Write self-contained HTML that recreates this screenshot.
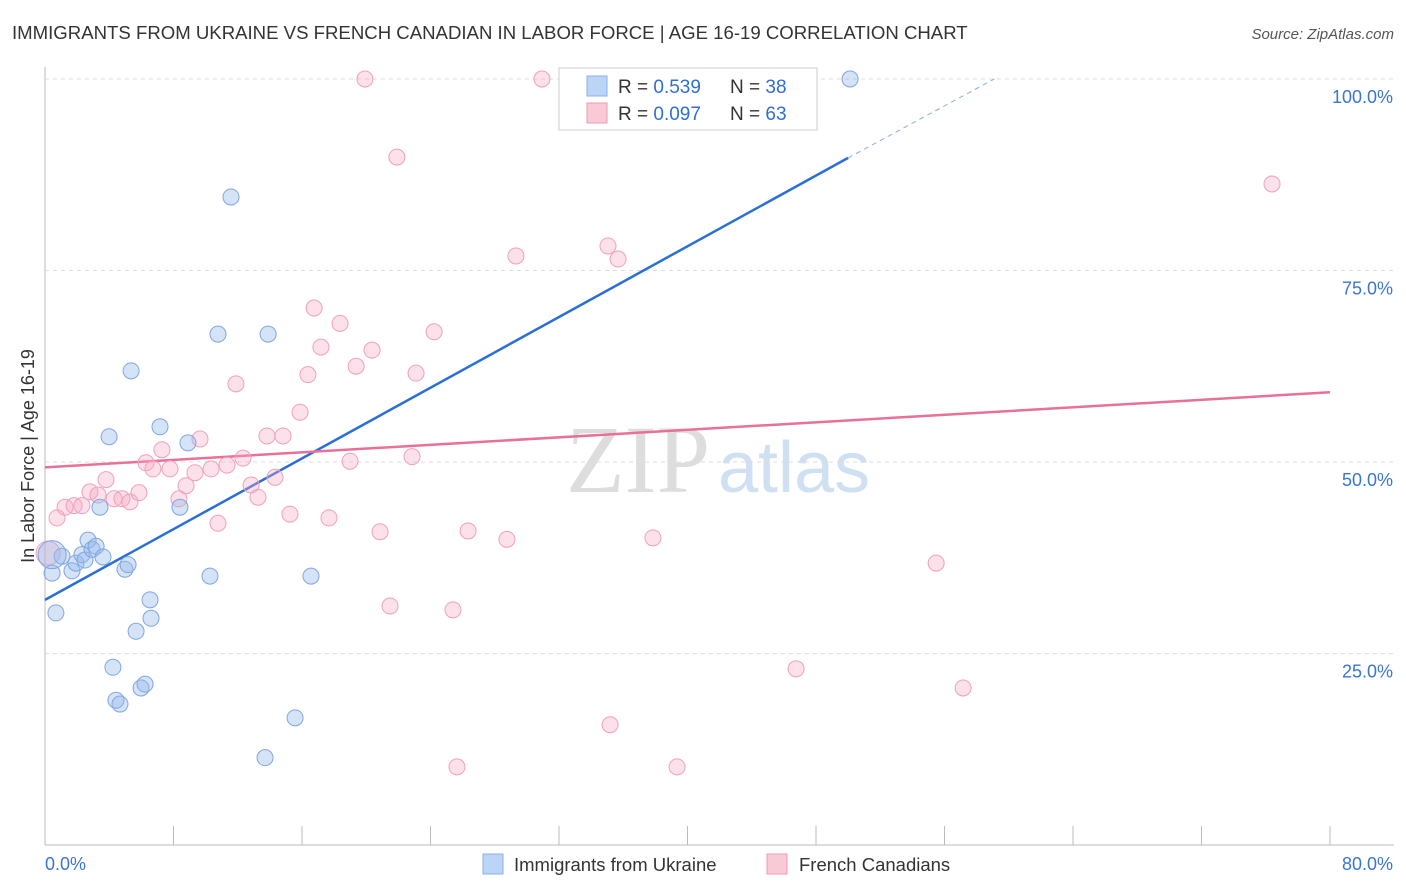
<!DOCTYPE html>
<html><head><meta charset="utf-8">
<style>
body{margin:0;background:#fff;font-family:"Liberation Sans",sans-serif;}
#wrap{position:relative;width:1406px;height:892px;overflow:hidden;}
</style></head>
<body>
<div id="wrap">
<svg id="svg" width="1406" height="892" xmlns="http://www.w3.org/2000/svg">
<text x="12" y="39" font-size="18.6" fill="#333">IMMIGRANTS FROM UKRAINE VS FRENCH CANADIAN IN LABOR FORCE | AGE 16-19 CORRELATION CHART</text>
<text x="1394" y="39" font-size="15" fill="#555" font-style="italic" text-anchor="end">Source: ZipAtlas.com</text>
<text x="710" y="492" font-size="96" font-family="Liberation Serif" fill="#ddd" text-anchor="end">ZIP</text>
<text x="718" y="492" font-size="72" fill="#cfe0f3">atlas</text>
<g id="grid"></g>
<g id="lines"></g>
<g id="pts"></g>
<text transform="translate(34,456) rotate(-90)" font-size="18" fill="#333" text-anchor="middle">In Labor Force | Age 16-19</text>
<g>
<rect x="559" y="68" width="258" height="62" fill="#fff" stroke="#ccc"/>
<rect x="587" y="76" width="20" height="20" fill="#bcd4f6" stroke="#8ab0e8"/>
<rect x="587" y="103" width="20" height="20" fill="#f9c9d6" stroke="#ee9ab3"/>
<text x="618" y="93" font-size="19" fill="#333">R = <tspan fill="#2f6fd4">0.539</tspan></text>
<text x="730" y="93" font-size="19" fill="#333">N = <tspan fill="#2f6fd4">38</tspan></text>
<text x="618" y="120" font-size="19" fill="#333">R = <tspan fill="#2f6fd4">0.097</tspan></text>
<text x="730" y="120" font-size="19" fill="#333">N = <tspan fill="#2f6fd4">63</tspan></text>
</g>
<g>
<rect x="483" y="854" width="20" height="20" fill="#bcd4f6" stroke="#8ab0e8"/>
<text x="514" y="871" font-size="18.5" fill="#333">Immigrants from Ukraine</text>
<rect x="767" y="854" width="20" height="20" fill="#f9c9d6" stroke="#ee9ab3"/>
<text x="799" y="871" font-size="18.5" fill="#333">French Canadians</text>
</g>
</svg>
</div>
<script>
const xTicks=[0,8,16,24,32,40,48,56,64,72,80];
const yTicks=[25,50,75,100];
const yTickLabels=["25.0%","50.0%","75.0%","100.0%"];
const blueX=[0.44,0.68,1.06,1.68,1.93,2.30,2.49,2.68,2.93,3.18,3.42,3.61,3.99,4.23,4.42,4.67,4.98,5.17,5.36,5.67,5.98,6.23,6.54,6.60,7.16,8.40,8.90,10.27,10.77,11.58,13.70,13.89,15.57,16.56,50.12,0.44];
const blueY=[35.5,30.3,37.7,35.8,36.8,37.9,37.2,39.8,38.6,39.0,44.1,37.6,53.3,23.2,18.9,18.4,36.0,36.6,61.9,27.9,20.5,21.0,32.0,29.6,54.6,44.1,52.5,35.1,66.7,84.6,11.4,66.7,16.6,35.1,100,37.9];
const pinkX=[0.19,0.75,1.25,1.81,2.30,2.80,3.30,3.80,4.30,4.79,5.29,5.85,6.29,6.72,7.28,7.78,8.34,8.78,9.34,9.65,10.34,10.77,11.33,11.89,12.33,12.83,13.26,13.82,14.32,14.82,15.25,15.88,16.37,16.75,17.18,17.68,18.37,18.99,19.37,19.92,20.36,20.86,21.48,21.91,22.85,23.10,24.22,25.40,25.65,26.34,28.76,29.32,30.94,35.05,35.18,35.68,37.85,39.35,46.76,55.48,57.16,76.39];
const pinkY=[38.1,42.7,44.1,44.3,44.3,46.1,45.7,47.7,45.2,45.2,44.8,46.0,49.9,49.1,51.6,49.1,45.2,46.9,48.6,53.0,49.1,42.0,49.6,60.2,50.5,47.0,45.4,53.4,48.0,53.4,43.2,56.5,61.4,70.1,65.0,42.7,68.1,50.1,62.5,100,64.6,40.9,31.2,89.8,50.7,61.6,67.0,30.7,10.2,41.0,39.9,76.9,100,78.2,15.7,76.5,40.1,10.2,23.0,36.8,20.5,86.3];
const blueLine=[0,32.0,50,89.7,59.1,100];
const pinkLine=[0,49.3,80,59.1];
const NS="http://www.w3.org/2000/svg";
const sx=v=>45+v*(1285/80), sy=v=>845-v*7.66;
function mk(tag,attrs,parent){const e=document.createElementNS(NS,tag);for(const k in attrs)e.setAttribute(k,attrs[k]);document.getElementById(parent).appendChild(e);return e;}
let e;
e=mk('line',{x1:45,y1:67,x2:45,y2:845,stroke:'#bbb'},'grid');


e=mk('line',{x1:45,y1:845,x2:1394,y2:845,stroke:'#bbb'},'grid');


yTicks.forEach((t,i)=>{
 e=mk('line',{x1:45,y1:sy(t),x2:1394,y2:sy(t),stroke:'#ddd','stroke-dasharray':'4,4'},'grid');
 
 
 e=mk('text',{x:1393,y:sy(t)+24,'font-size':18,fill:'#3a76d0','text-anchor':'end'},'grid');e.textContent=yTickLabels[i];
 
 
});
xTicks.forEach(t=>{
 e=mk('line',{x1:sx(t),y1:826,x2:sx(t),y2:845,stroke:'#bbb'},'grid');
 
 
});
e=mk('text',{x:45,y:870,'font-size':18,fill:'#3a76d0'},'grid');e.textContent='0.0%';


e=mk('text',{x:1393,y:870,'font-size':18,fill:'#3a76d0','text-anchor':'end'},'grid');e.textContent='80.0%';


pinkX.forEach((x,i)=>{
 e=mk('circle',{cx:sx(x),cy:sy(pinkY[i]),r:i==0?12:8,fill:'rgba(246,170,195,0.35)',stroke:'#f0a0ba','stroke-width':1},'pts');
 
 
});
blueX.forEach((x,i)=>{
 e=mk('circle',{cx:sx(x),cy:sy(blueY[i]),r:i==blueX.length-1?14:8,fill:'rgba(150,185,235,0.4)',stroke:'#7fa6e0','stroke-width':1},'pts');
 
 
});
e=mk('line',{x1:sx(blueLine[0]),y1:sy(blueLine[1]),x2:sx(blueLine[2]),y2:sy(blueLine[3]),stroke:'#2a6fd6','stroke-width':2.5},'lines');


e=mk('line',{x1:sx(blueLine[2]),y1:sy(blueLine[3]),x2:sx(blueLine[4]),y2:sy(blueLine[5]),stroke:'#8ab0e8','stroke-width':1,'stroke-dasharray':'5,4'},'lines');


e=mk('line',{x1:sx(pinkLine[0]),y1:sy(pinkLine[1]),x2:sx(pinkLine[2]),y2:sy(pinkLine[3]),stroke:'#e8709a','stroke-width':2.5},'lines');


</script>
</body></html>
